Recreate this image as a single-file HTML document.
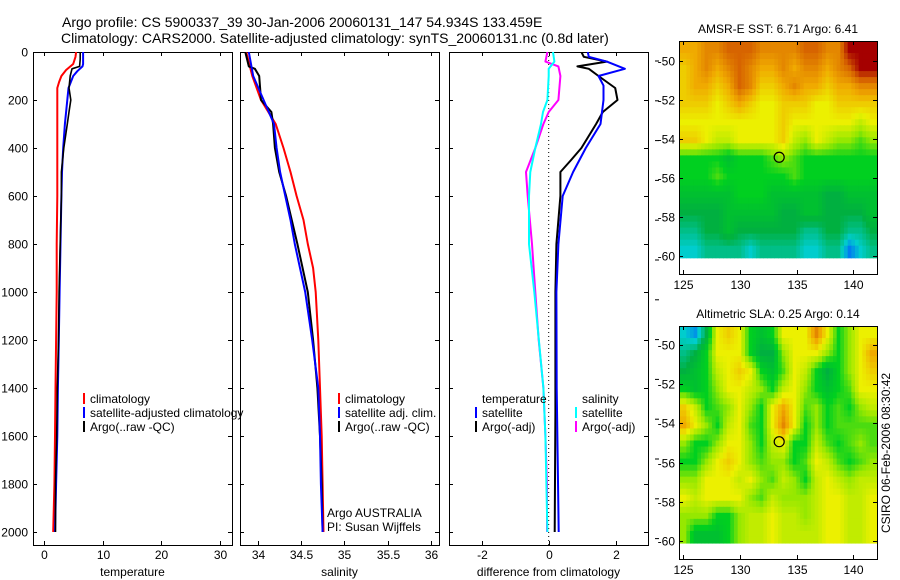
<!DOCTYPE html>
<html><head><meta charset="utf-8"><style>
body{margin:0;background:#fff;}
svg{display:block;font-family:"Liberation Sans",sans-serif;}
</style></head><body>
<svg id="fig" width="900" height="580" viewBox="0 0 900 580">
<rect width="900" height="580" fill="#fff"/>
<text x="62" y="27" font-size="14">Argo profile: CS 5900337_39 30-Jan-2006 20060131_147 54.934S 133.459E</text>
<text x="61" y="43" font-size="14">Climatology: CARS2000. Satellite-adjusted climatology: synTS_20060131.nc (0.8d later)</text>
<defs>
<clipPath id="c1"><rect x="33" y="52" width="199" height="493"/></clipPath>
<clipPath id="c2"><rect x="240" y="52" width="199" height="493"/></clipPath>
<clipPath id="c3"><rect x="449" y="52" width="199" height="493"/></clipPath>
</defs>
<g id="layer"></g>
</svg>
<script>
// ---- temperature panel data ----
const tClimDepth=[0,20,50,75,100,125,150,200,400,600,800,1000,1200,1400,1600,1800,2000];
const tClimVal=[5.5,5.4,5.0,3.8,3.0,2.6,2.3,2.3,2.3,2.3,2.2,2.2,2.1,2.0,1.9,1.8,1.6];
const tSatDepth=[0,50,60,80,100,150,200,300,400,500,600,800,1000,1200,1400,1600,1800,2000];
const tSatVal=[6.7,6.7,6.6,5.7,5.0,4.2,4.0,3.6,3.3,3.1,3.0,2.85,2.7,2.55,2.4,2.3,2.1,1.9];
const tArgoDepth=[0,30,60,70,100,150,200,250,300,400,500,600,800,1000,1200,1400,1600,1800,2000];
const tArgoVal=[6.2,6.2,6.1,4.8,4.5,4.3,4.6,4.3,4.0,3.4,3.0,3.0,2.8,2.6,2.5,2.3,2.2,2.0,2.0];
const tTicks=[0,10,20,30];
// ---- salinity panel data ----
const sClimDepth=[0,100,200,300,400,500,600,700,800,900,1000,1200,1400,1600,1800,2000];
const sClimVal=[33.87,33.94,34.04,34.21,34.30,34.38,34.45,34.53,34.58,34.64,34.67,34.70,34.72,34.74,34.75,34.76];
const sSatDepth=[0,100,200,300,400,500,600,700,800,900,1000,1200,1400,1600,1800,2000];
const sSatVal=[33.90,33.95,34.07,34.19,34.22,34.26,34.32,34.38,34.43,34.49,34.55,34.63,34.70,34.72,34.73,34.75];
const sArgoDepth=[0,60,70,100,200,250,300,400,500,600,800,1000,1200,1400,1600,1800,2000];
const sArgoVal=[33.86,33.90,33.97,34.02,34.04,34.16,34.18,34.20,34.25,34.33,34.46,34.58,34.64,34.69,34.72,34.74,34.75];
const sTicks=[34,34.5,35,35.5,36];
// ---- difference panel data ----
const dTSatDepth=[0,20,40,70,100,140,200,300,400,500,600,800,1000,1400,2000];
const dTSatVal=[1.17,1.2,1.74,2.28,1.49,1.64,1.64,1.55,1.11,0.73,0.42,0.29,0.23,0.24,0.3];
const dTArgoDepth=[0,20,40,60,70,100,150,200,250,300,400,450,500,600,800,1000,1200,1500,2000];
const dTArgoVal=[0.98,1.05,1.74,0.86,1.2,1.49,1.99,2.06,1.62,1.42,0.98,0.67,0.35,0.35,0.23,0.2,0.2,0.2,0.18];
const dSSatDepth=[0,40,70,100,200,250,300,400,500,600,800,1000,1400,1600,2000];
const dSSatVal=[0.13,0.17,0.0,0.0,-0.04,-0.17,-0.23,-0.4,-0.55,-0.59,-0.59,-0.43,-0.16,-0.1,-0.04];
const dSArgoDepth=[0,40,60,100,200,250,300,400,500,600,800,1000,1200,1400,1600,1800,2000];
const dSArgoVal=[-0.04,-0.1,0.29,0.35,0.29,0.0,-0.16,-0.4,-0.68,-0.63,-0.5,-0.4,-0.3,-0.16,-0.1,-0.05,-0.05];
const dTicks=[-2,0,2];
const depthTicks=[0,200,400,600,800,1000,1200,1400,1600,1800,2000];
// ---- maps ----
const mapLatTicks=[-50,-52,-54,-56,-58,-60];
const mapLonTicks=[125,130,135,140];
const sstGrid=[
[6,6,6.5,6.5,7,7,7,6.5,6.5,6.5,6.5,7,7,6.5,6.5,8,8,8],
[5.5,6,6.5,6,6.5,7,6.5,6,6,6.5,6,6.5,6.5,6,6.5,7,8,8],
[5.5,6,6,5.5,6,7,6.5,5.5,5.5,6,6.5,6,6,5.5,6,6,6.5,6.5],
[5.5,5.5,5.5,5,5.5,6,5.5,5,5,5.5,5.5,5.5,5,5,5.5,5.5,5.5,5.5],
[5,5,5,5,5,5,5,5,5,5.5,5,5,5,5,5,5,4.5,5],
[5.5,5.5,5,4.5,4.5,5,5,5,5,5.5,4.5,4,5,4.5,4,4,3.5,4],
[3,3,3,3,2.5,3,3,3,3.5,4,3.5,3,3,3,3,3,3,3],
[3,3,3,3.5,3,3,3,3,3,3,3.5,3,3,3,3,3,3,3],
[2.5,2.5,2.5,2.5,2.5,3,3,3,2.5,2.5,2.5,2.5,2.5,2,2,2.5,2.5,2.5],
[2,2,2,2,2.5,2.5,2.5,2.5,2.5,2,2,2.5,2.5,2,2,2,2,2.5],
[1.5,1.5,2,2,2.5,2,2,2,2,2,2,1.5,1.5,2,2,1.5,1.5,2],
[1,1,1.5,1.5,1.5,1.5,1,1.5,1.5,1.5,1.5,1,1,1.5,1.5,0.3,1,1.5]];
const slaGrid=[
[1,0.5,2,5,5.5,5,3,2.5,3,5,5,5,6.5,5,3,4,5,5],
[1.5,2,3,5,5,5,3,2,2,4,5,5,5,4,3,4,5,6],
[2,2.5,3,4.5,5,5.5,5,3,2.5,3.5,5,4.5,3,2,3,4,5,5.5],
[3,2.5,3,4,5,5,4.5,4,3,4.5,5,4,3,2.5,3,3.5,5,5],
[5.5,4.5,3,3.5,4,5,4,3,5,6,5,3.5,4,3,3.5,3,4,4.5],
[6,5,4,3,4.5,5,3.5,3,5,6.5,5,3,4,3,3.5,3.5,3.5,3.5],
[4,3,3,4,5,5,4,3,4.5,5,3,3,4.5,3.5,3,3.5,4,3.5],
[3,3,4,5,5.5,5,4,3.5,4,4,3,3.5,5,4.5,3.5,3,3.5,4],
[4,4,5,5,5,4.5,5,4,3.5,4.5,4,3,4.5,5,4.5,4,4.5,4.5],
[5,4.5,5,5,5,5,4,3.5,4.5,4,4,4,4.5,5,5,4.5,4.5,5],
[4,4,4,3,3,4,4.5,4.5,5,4.5,4.5,4,4.5,5,5,4.5,4.5,5],
[4,2.5,2.5,2.5,3,4,4.5,4.5,5,4.5,4.5,4.5,4.5,5,5,4.5,4.5,5]];
const floatLon=[133.459];
const floatLat=[-54.934];

const NS="http://www.w3.org/2000/svg";
const L=document.getElementById('layer');
function mk(tag,attrs,parent){const e=document.createElementNS(NS,tag);for(const k in attrs)e.setAttribute(k,attrs[k]);(parent||L).appendChild(e);return e;}
const yD=d=>52+d*0.24;
const xT=t=>43.8+t*5.87;
const xS=s=>257.5+(s-34)*86.8;
const xDf=v=>548.7+v*33.4;

const panels=[{x0:33,x1:232,clip:'c1',fx:xT,ticks:tTicks,lab:'temperature',name:'temperature'},
 {x0:240,x1:439,clip:'c2',fx:xS,ticks:sTicks,lab:'salinity',name:'salinity'},
 {x0:449,x1:648,clip:'c3',fx:xDf,ticks:dTicks,lab:'difference from climatology',name:'difference'}];
const Y0=52,Y1=545;
panels.forEach((p,pi)=>{
  const g=mk('g',{});
  
  
  const fr=mk('rect',{x:p.x0+0.5,y:Y0+0.5,width:p.x1-p.x0,height:Y1-Y0,fill:'none',stroke:'#000','stroke-width':1},g);
  
  
  p.ticks.forEach(t=>{
    const x=Math.round(p.fx(t))+0.5;
    mk('line',{x1:x,x2:x,y1:Y1,y2:Y1-4,stroke:'#000'},g);
    mk('line',{x1:x,x2:x,y1:Y0,y2:Y0+4,stroke:'#000'},g);
    const tx=mk('text',{x:x,y:Y1+14,'font-size':12,'text-anchor':'middle'},g);
    tx.textContent=String(t);
    
    
  });
  depthTicks.forEach(d=>{
    const y=Math.round(yD(d))+0.5;
    mk('line',{x1:p.x0,x2:p.x0+4,y1:y,y2:y,stroke:'#000'},g);
    mk('line',{x1:p.x1,x2:p.x1-4,y1:y,y2:y,stroke:'#000'},g);
    if(pi===0){
      const tx=mk('text',{x:28,y:y+4,'font-size':12,'text-anchor':'end'},g);
      tx.textContent=String(d);
      
      
    }
  });
  const xl=mk('text',{x:(p.x0+p.x1)/2,y:576,'font-size':12,'text-anchor':'middle'},g);
  xl.textContent=p.lab;
  
  
});
// extra ticks right of difference panel
for(let i=0;i<13;i++){const y=61+i*39.8;mk('line',{x1:655,x2:659,y1:y,y2:y,stroke:'#000'});}
const zl=mk('line',{x1:xDf(0),x2:xDf(0),y1:Y0,y2:Y1,stroke:'#000','stroke-dasharray':'1,3'});



function series(depths,vals,fx,clip,color,w,name){
  const pts=depths.map((d,i)=>fx(vals[i]).toFixed(1)+','+yD(d).toFixed(1)).join(' ');
  const pl=mk('polyline',{points:pts,fill:'none',stroke:color,'stroke-width':w,'clip-path':'url(#'+clip+')','stroke-linejoin':'round'});
  
  
}
series(tClimDepth,tClimVal,xT,'c1','#f00',2,'temp-climatology-line');
series(tSatDepth,tSatVal,xT,'c1','#00f',2,'temp-satellite-line');
series(tArgoDepth,tArgoVal,xT,'c1','#000',1.6,'temp-argo-line');
series(sClimDepth,sClimVal,xS,'c2','#f00',2,'sal-climatology-line');
series(sArgoDepth,sArgoVal,xS,'c2','#000',2,'sal-argo-line');
series(sSatDepth,sSatVal,xS,'c2','#00f',2,'sal-satellite-line');
series(dSArgoDepth,dSArgoVal,xDf,'c3','#f0f',2,'diff-sal-argo-line');
series(dSSatDepth,dSSatVal,xDf,'c3','#0ff',2,'diff-sal-satellite-line');
series(dTArgoDepth,dTArgoVal,xDf,'c3','#000',2,'diff-temp-argo-line');
series(dTSatDepth,dTSatVal,xDf,'c3','#00f',2,'diff-temp-satellite-line');

function legend(x,y,color,txt,name){
  if(color){const b=mk('line',{x1:x,x2:x,y1:y-10,y2:y+1,stroke:color,'stroke-width':2});
    }
  const t=mk('text',{x:x+6,y:y,'font-size':12});t.textContent=txt;
  
}
legend(84,403,'#f00','climatology','legend-temp-climatology');
legend(84,417,'#00f','satellite-adjusted climatology','legend-temp-satellite');
legend(84,431,'#000','Argo(..raw -QC)','legend-temp-argo');
legend(339,403,'#f00','climatology','legend-sal-climatology');
legend(339,417,'#00f','satellite adj. clim.','legend-sal-satellite');
legend(339,431,'#000','Argo(..raw -QC)','legend-sal-argo');
legend(476,403,null,'temperature','legend-diff-temperature-header');
legend(476,417,'#00f','satellite','legend-diff-temp-satellite');
legend(476,431,'#000','Argo(-adj)','legend-diff-temp-argo');
legend(576,403,null,'salinity','legend-diff-salinity-header');
legend(576,417,'#0ff','satellite','legend-diff-sal-satellite');
legend(576,431,'#f0f','Argo(-adj)','legend-diff-sal-argo');
legend(321,517,null,'Argo AUSTRALIA','argo-australia-label');
legend(321,531,null,'PI: Susan Wijffels','pi-label');

const cmapStops=[[0,[0,90,255]],[1,[0,205,205]],[2,[0,176,64]],[3,[0,208,32]],[4,[150,232,0]],[5,[236,240,0]],[6,[240,170,0]],[7,[215,100,0]],[8,[165,0,0]]];
function cmap(v){v=Math.max(0,Math.min(8,v));const i=Math.min(7,Math.floor(v)),f=v-i;const a=cmapStops[i][1],b=cmapStops[i+1][1];
  return 'rgb('+a.map((c,k)=>Math.round(c+(b[k]-c)*f)).join(',')+')';}
function sample(grid,fr,fc){
  const R=grid.length,C=grid[0].length;
  fr=Math.max(0,Math.min(R-1,fr));fc=Math.max(0,Math.min(C-1,fc));
  const r0=Math.floor(fr),c0=Math.floor(fc),r1=Math.min(R-1,r0+1),c1=Math.min(C-1,c0+1),dr=fr-r0,dc=fc-c0;
  return grid[r0][c0]*(1-dr)*(1-dc)+grid[r0][c1]*(1-dr)*dc+grid[r1][c0]*dr*(1-dc)+grid[r1][c1]*dr*dc;
}

function drawMap(grid,top,bottom,lat50,lat60,title,name){
  const X0=679,X1=877;
  const lonX=lon=>740+(lon-130)*11.33;
  const latY=lat=>lat50+(-50-lat)*(lat60-lat50)/10;
  const g=mk('g',{});
  
  
  const rows=grid.length,cols=grid[0].length;
  const dataBottom=latY(-60.1);
  const UP=3;
  const NR=rows*UP,NC=cols*UP;
  const cw=(X1-X0)/NC,ch=(dataBottom-top)/NR;
  for(let r=0;r<NR;r++)for(let c=0;c<NC;c++){
    const v=sample(grid,(r+0.5)/UP-0.5,(c+0.5)/UP-0.5);
    mk('rect',{x:(X0+c*cw).toFixed(2),y:(top+r*ch).toFixed(2),width:(cw+0.6).toFixed(2),height:(ch+0.6).toFixed(2),fill:cmap(v)},g);
  }
  mk('rect',{x:X0+0.5,y:top+0.5,width:X1-X0,height:bottom-top,fill:'none',stroke:'#000'},g);
  mapLatTicks.forEach(lat=>{const y=Math.round(latY(lat))+0.5;
    mk('line',{x1:X0,x2:X0+4,y1:y,y2:y,stroke:'#000'},g);mk('line',{x1:X1,x2:X1-4,y1:y,y2:y,stroke:'#000'},g);
    const t=mk('text',{x:X0-4,y:y+4,'font-size':12,'text-anchor':'end'},g);t.textContent=String(lat);
    });
  mapLonTicks.forEach(lon=>{const x=Math.round(lonX(lon))+0.5;
    mk('line',{x1:x,x2:x,y1:top,y2:top+4,stroke:'#000'},g);mk('line',{x1:x,x2:x,y1:bottom,y2:bottom-4,stroke:'#000'},g);
    const t=mk('text',{x:x,y:bottom+15,'font-size':12,'text-anchor':'middle'},g);t.textContent=String(lon);
    });
  const ci=mk('circle',{cx:lonX(floatLon[0]),cy:latY(floatLat[0]),r:5,fill:'none',stroke:'#000','stroke-width':1.2},g);
  
  const tt=mk('text',{x:(X0+X1)/2,y:top-8,'font-size':12,'text-anchor':'middle'},g);tt.textContent=title;
  
}
drawMap(sstGrid,41,274,61.3,255.8,'AMSR-E SST: 6.71 Argo: 6.41','sst-map');
drawMap(slaGrid,326,559,345,541,'Altimetric SLA: 0.25 Argo: 0.14','sla-map');
const st=mk('text',{x:0,y:0,'font-size':12,'text-anchor':'middle',transform:'translate(890,453) rotate(-90)'});
st.textContent='CSIRO 06-Feb-2006 08:30:42';


</script>
</body></html>
